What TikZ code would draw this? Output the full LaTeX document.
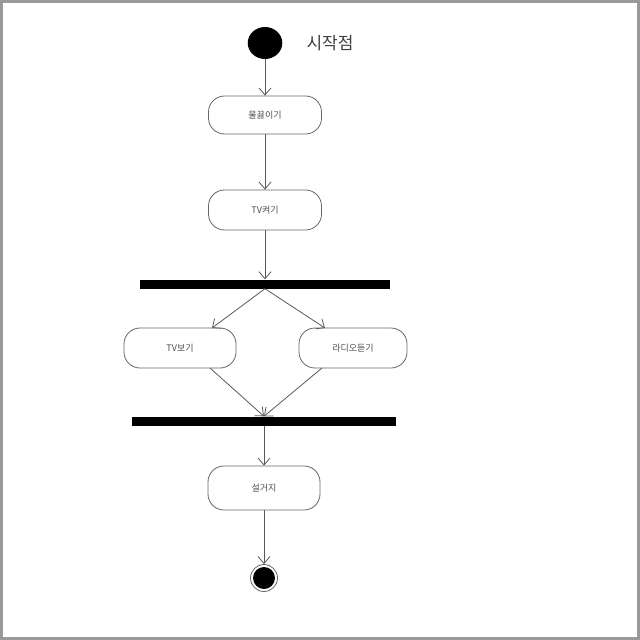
\documentclass[tikz,border=0pt]{standalone}
\usepackage{fontspec}
\setmainfont{Noto Sans CJK KR}
\usetikzlibrary{arrows.meta}
\begin{document}
\begin{tikzpicture}[x=1pt,y=-1pt,
  act/.style={draw=black!60, line width=0.8pt, rounded corners=16pt, minimum width=113pt, minimum height=38pt, inner sep=0pt, font=\fontsize{9}{10}\selectfont, text=black!70},
  bar/.style={fill=black, minimum height=9pt, inner sep=0pt},
  flow/.style={draw=black!65, line width=0.8pt, -{Straight Barb[length=7pt,width=12pt]}}
]
\useasboundingbox (0,0) rectangle (640,640);
\draw[black!40, line width=3pt] (1.5,1.5) rectangle (638.5,638.5);
\node[circle, fill=black, minimum width=32pt, minimum height=30pt, inner sep=0pt, xscale=1.08] (start) at (265,43) {};
\node[font=\fontsize{17}{19}\selectfont, text=black!75, anchor=west] (lbl) at (303,43) {시작점};
\node[act] (b1) at (265,115) {물끓이기};
\node[act, minimum height=40pt] (b2) at (265,210) {TV켜기};
\node[bar, minimum width=250pt] (f1) at (265,284) {};
\node[act, minimum width=112pt, minimum height=40pt] (tv) at (180,348) {TV보기};
\node[act, minimum width=108pt, minimum height=40pt] (rd) at (353,348) {라디오듣기};
\node[bar, minimum width=264pt] (f2) at (264,421) {};
\node[act, minimum width=112pt, minimum height=44pt] (b5) at (264,488) {설거지};
\node[circle, draw=black!60, line width=0.8pt, minimum size=27pt, inner sep=0pt] (endo) at (264,578) {};
\node[circle, fill=black, minimum size=22pt, inner sep=0pt] (endi) at (264,578) {};
\coordinate (tvin) at (212,328);
\coordinate (rdin) at (325,328);
\coordinate (tvout) at (210,368);
\coordinate (rdout) at (322,368);
\draw[flow] (start) -- (b1);
\draw[flow] (b1) -- (b2);
\draw[flow] (b2) -- (f1.north);
\draw[flow] (f1.south) -- (tvin);
\draw[flow] (f1.south) -- (rdin);
\draw[flow] (tvout) -- (f2.north);
\draw[flow] (rdout) -- (f2.north);
\draw[flow] (f2.south) -- (b5);
\draw[flow] (b5) -- (endo);
\end{tikzpicture}
\end{document}
